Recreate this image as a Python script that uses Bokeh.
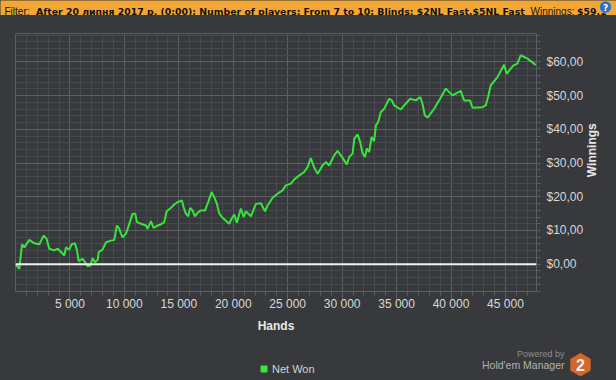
import math
from bokeh.plotting import figure
from bokeh.models import (ColumnDataSource, Range1d, FixedTicker, Span, Label, Legend,
                          LegendItem, PolyAnnotation, BoxAnnotation)
from bokeh.layouts import column, row
from bokeh.embed import file_html
from bokeh.resources import INLINE

# ---------------- data ----------------
hands = [0, 350, 600, 810, 1270, 1730, 2190, 2590, 2860, 3100, 3560, 3870, 4180, 4480, 4640,
         4940, 5160, 5460, 5650, 5800, 6170, 6380, 6630, 6870, 7090, 7300, 7550, 7640, 8000,
         8310, 8770, 9070, 9320, 9530, 9690, 9840, 10140, 10300, 10760, 11000, 11150, 11520,
         11980, 12130, 12440, 12680, 13050, 13350, 13660, 13880, 14270, 14580, 14890, 15280,
         15440, 15650, 15860, 16050, 16270, 16480, 16720, 16970, 17400, 17700, 18010, 18250,
         18500, 18710, 19020, 19630, 19850, 20090, 20330, 20700, 20950, 21160, 21620, 22080,
         22540, 22910, 23150, 23610, 24070, 24530, 24830, 25290, 25590, 26050, 26510, 26820,
         27120, 27420, 27740, 28200, 28500, 28810, 29270, 29580, 29880, 30190, 30430, 30650,
         30960, 31110, 31420, 31660, 31870, 32090, 32270, 32480, 32700, 32940, 33100, 33310,
         33550, 33860, 34320, 34560, 34780, 35390, 35700, 36250, 36770, 37170, 37380, 37590,
         37840, 38450, 38760, 39000, 39520, 40130, 40900, 41200, 41750, 41970, 42890, 43190,
         43400, 43650, 44270, 44870, 45120, 45730, 46100, 46400, 47020, 47630, 47780]
net_won = [0.0, -1.4, 5.9, 5.0, 7.2, 6.2, 5.9, 8.5, 7.5, 4.6, 4.1, 4.6, 3.6, 2.6, 5.0,
           4.3, 5.9, 6.2, 4.1, 0.9, 1.6, 0.6, -0.6, -0.4, 1.8, 0.6, 1.3, 3.6, 4.3,
           6.5, 7.0, 7.2, 11.5, 10.5, 9.0, 8.0, 9.0, 10.5, 15.0, 15.0, 12.5, 12.0,
           11.5, 10.5, 12.8, 10.8, 11.5, 11.8, 12.5, 15.7, 16.7, 17.7, 18.4, 18.9,
           16.9, 15.0, 14.2, 16.7, 15.9, 14.2, 15.2, 15.9, 15.9, 18.4, 21.4, 19.9,
           17.9, 15.0, 13.8, 12.0, 13.5, 14.7, 12.3, 16.5, 14.0, 15.7, 14.2, 17.9,
           18.1, 15.7, 17.4, 19.7, 20.9, 21.9, 23.4, 23.9, 25.1, 26.3, 27.3, 28.8,
           31.5, 28.8, 26.8, 29.3, 30.3, 29.3, 32.3, 33.6, 32.3, 30.8, 29.6, 31.8,
           32.8, 37.2, 38.5, 36.2, 33.0, 31.8, 34.3, 33.3, 37.7, 36.5, 41.2, 42.2,
           45.1, 46.1, 49.1, 48.6, 47.1, 45.9, 47.1, 49.1, 48.6, 49.6, 47.6, 44.2,
           43.5, 46.1, 47.8, 49.1, 52.1, 50.1, 51.4, 48.6, 48.6, 46.4, 46.6, 47.1,
           49.6, 53.1, 55.5, 59.2, 56.5, 59.0, 59.5, 62.0, 61.0, 59.5, 59.1]

x_ticks = [5000, 10000, 15000, 20000, 25000, 30000, 35000, 40000, 45000]
x_tick_labels = ["5 000", "10 000", "15 000", "20 000", "25 000", "30 000", "35 000",
                 "40 000", "45 000"]
y_ticks = [0, 10, 20, 30, 40, 50, 60]
y_tick_labels = ["$0,00", "$10,00", "$20,00", "$30,00", "$40,00", "$50,00", "$60,00"]

series_name = "Net Won"
x_title = "Hands"
y_title = "Winnings"
filter_label = "Filter:"
filter_value = "After 20 липня 2017 р. (0:00); Number of players: From 7 to 10; Blinds: $2NL Fast,$5NL Fast"
winnings_label = "Winnings:"
winnings_value = "$59,1"
brand_small = "Powered by"
brand_name = "Hold'em Manager"
brand_mark = "2"

# ---------------- style ----------------
BG = "#37393d"
GRID_MAJOR = "#5b5e62"
GRID_MINOR = "#46494d"
GREEN = "#38e43c"
TEXT = "#d8d8d8"
ORANGE = "#f3a634"
FONT = "Liberation Sans"
BOLD_FONT = "DejaVu Sans"

W = 616
TOP_H = 15
MAIN_H = 325
BOT_H = 40
MAIN_W = 586
SIDE_W = W - MAIN_W
FR_L, FR_R, FR_T, FR_B = 15, 536, 18, 276   # frame edges inside the main figure
X0, X1 = 0, 47850
Y0, Y1 = -8.1, 68.45


def bare(width, height, x_end, y_end, fill=BG):
    """A figure whose frame is its whole canvas, in pixel units (y downwards)."""
    f = figure(width=width, height=height, x_range=Range1d(0, x_end),
               y_range=Range1d(y_end, 0), output_backend="svg", toolbar_location=None,
               x_axis_type=None, y_axis_type=None, min_border=0,
               background_fill_color=fill, border_fill_color=fill, outline_line_color=None)
    f.grid.visible = False
    return f


# ---------------- banner ----------------
top = bare(W, TOP_H, W, TOP_H, fill=ORANGE)
top.add_layout(Label(x=4, y=10.5, text=filter_label, text_baseline="alphabetic",
                     text_font=FONT, text_font_size="10px", text_color="#111111"))
top.add_layout(Label(x=35.5, y=10.5, text=filter_value, text_baseline="alphabetic",
                     text_font=BOLD_FONT, text_font_size="9.35px", text_font_style="bold",
                     text_color="#111111"))
top.add_layout(Label(x=530, y=10.5, text=winnings_label, text_baseline="alphabetic",
                     text_font=FONT, text_font_size="10px", text_color="#111111"))
top.add_layout(Label(x=576.5, y=10.5, text=winnings_value, text_baseline="alphabetic",
                     text_font=BOLD_FONT, text_font_size="9.35px", text_font_style="bold",
                     text_color="#111111"))
top.add_layout(BoxAnnotation(left=599, right=611, top=0.5, bottom=12.5, border_radius=6,
                             fill_color="#2f6fbf", fill_alpha=1, line_color="#dde6f2",
                             line_width=1))
top.add_layout(Label(x=605, y=7, text="?", text_align="center", text_baseline="middle",
                     text_font=BOLD_FONT, text_font_size="9px", text_font_style="bold",
                     text_color="#ffffff"))

# ---------------- main chart ----------------
src = ColumnDataSource(data=dict(hands=hands, net_won=net_won))

p = figure(width=MAIN_W, height=MAIN_H, x_range=Range1d(X0, X1), y_range=Range1d(Y0, Y1),
           output_backend="svg", toolbar_location=None, y_axis_location="right",
           min_border_left=FR_L, min_border_right=MAIN_W - FR_R, min_border_top=FR_T,
           min_border_bottom=MAIN_H - FR_B,
           background_fill_color=BG, border_fill_color=BG, outline_line_color=GRID_MAJOR)

xa = p.xaxis[0]
xa.ticker = FixedTicker(ticks=x_ticks, minor_ticks=list(range(1000, 48000, 1000)))
xa.major_label_overrides = {t: l for t, l in zip(x_ticks, x_tick_labels)}
xa.axis_label = x_title
ya = p.yaxis[0]
ya.ticker = FixedTicker(ticks=y_ticks, minor_ticks=list(range(-8, 70, 2)))
ya.major_label_overrides = {t: l for t, l in zip(y_ticks, y_tick_labels)}

for ax in (xa, ya):
    ax.axis_line_color = GRID_MAJOR
    ax.major_tick_line_color = GRID_MAJOR
    ax.minor_tick_line_color = GRID_MAJOR
    ax.major_tick_in = 0
    ax.minor_tick_in = 0
    ax.major_label_text_font = FONT
    ax.major_label_text_font_size = "12px"
    ax.major_label_text_color = TEXT
    ax.axis_label_text_font = FONT
    ax.axis_label_text_font_size = "12px"
    ax.axis_label_text_font_style = "bold"
    ax.axis_label_text_color = "#e8e8e8"

xa.major_tick_out = 8
xa.minor_tick_out = 4
xa.major_label_standoff = -3
xa.axis_label_standoff = 5
ya.major_tick_out = 4
ya.minor_tick_out = 4
ya.major_label_standoff = 6

for g in (p.xgrid[0], p.ygrid[0]):
    g.grid_line_color = GRID_MAJOR
    g.minor_grid_line_color = GRID_MINOR
p.xgrid[0].ticker = xa.ticker
p.ygrid[0].ticker = ya.ticker

p.line("hands", "net_won", source=src, line_color=GREEN, line_width=2)
p.add_layout(Span(location=0, dimension="width", line_color="#f2f2f2", line_width=2))

# ---------------- y title strip (reads bottom-to-top) ----------------
side = bare(SIDE_W, MAIN_H, SIDE_W, MAIN_H)
side.add_layout(Label(x=591.7 - MAIN_W, y=(FR_T + FR_B) / 2, text=y_title, angle=90,
                      angle_units="deg", text_align="center", text_baseline="middle",
                      text_font=FONT, text_font_size="12px", text_font_style="bold",
                      text_color="#e8e8e8"))

# ---------------- legend + brand strip ----------------
bot = bare(W, BOT_H, W, BOT_H)
# legend-only renderer: its single point is NaN, so only the legend swatch is drawn
key_src = ColumnDataSource(data=dict(x=[float("nan")], y=[float("nan")]))
key = bot.scatter("x", "y", source=key_src, marker="square", size=6, color=GREEN)
bot.add_layout(Legend(items=[LegendItem(label=series_name, renderers=[key])],
                      location=(256, 4), orientation="horizontal",
                      background_fill_alpha=0, border_line_alpha=0, padding=0, margin=0,
                      spacing=0, glyph_width=15, glyph_height=15, label_standoff=1,
                      label_height=15, label_text_font=FONT, label_text_font_size="11px",
                      label_text_color="#d4d4d4"))

cx, cy, r = 580, 24.2, 11.5
angles = (90, 30, -30, -90, -150, 150)
bot.add_layout(PolyAnnotation(xs=[cx + r * math.cos(math.radians(a)) for a in angles],
                              ys=[cy - r * math.sin(math.radians(a)) for a in angles],
                              fill_color="#d6662a", fill_alpha=1,
                              line_color="#e2803f", line_width=1))
bot.add_layout(Label(x=cx, y=cy + 0.5, text=brand_mark, text_align="center",
                     text_baseline="middle", text_font=FONT, text_font_size="16px",
                     text_font_style="bold", text_color="#f4f4f4"))
bot.add_layout(Label(x=564, y=13.7, text=brand_small, text_align="right",
                     text_baseline="middle", text_font=FONT, text_font_size="9px",
                     text_color="#8e8e8e"))
bot.add_layout(Label(x=564, y=24.5, text=brand_name, text_align="right",
                     text_baseline="middle", text_font=FONT, text_font_size="10.5px",
                     text_color="#b2b2b2"))

mid = row(p, side, spacing=0, styles={"background-color": BG})
layout = column(top, mid, bot, spacing=0, styles={"background-color": BG})

with open("out.html", "w") as f:
    f.write(file_html(layout, INLINE))
